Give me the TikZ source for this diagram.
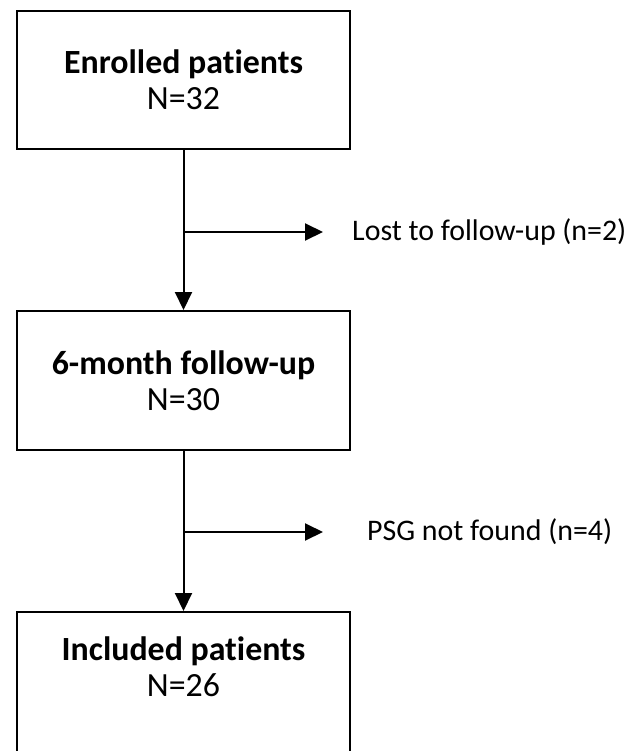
\documentclass[tikz,border=0pt]{standalone}
\usepackage{fontspec}
\setmainfont{Carlito}[Ligatures=NoCommon]
\usetikzlibrary{arrows.meta}
\begin{document}
\begin{tikzpicture}[x=1bp, y=-1bp,
    stage/.style={draw=black, line width=2bp, minimum width=333bp, align=center,
      font=\fontsize{34}{38}\selectfont\bfseries},
    excluded/.style={anchor=west, inner sep=0pt, font=\fontsize{30}{36}\selectfont},
    flow/.style={line width=2bp, -{Triangle[length=18bp, width=17bp]}}]
    \useasboundingbox (0,0) rectangle (633,751);
    \clip (0,0) rectangle (633,751);
    % Draw the stages of the study.
    \node[stage, minimum height=138bp] (enrolled) at (183.5,80) {Enrolled patients\\[-2pt]\mdseries N=32};
    \node[stage, minimum height=139bp] (followup) at (183.5,380.5) {6-month follow-up\\[-2pt]\mdseries N=30};
    \node[stage, minimum height=170bp, text depth=60bp] (included) at (183.5,697) {Included patients\\[-2pt]\mdseries N=26};
    % Draw the exclusions on the right.
    \node[excluded] (lost) at (352,232) {Lost to follow-up (n=2)};
    \node[excluded] (psg) at (367,532) {PSG not found (n=4)};
    \coordinate (split1) at (enrolled.south |- lost.west);
    \coordinate (split2) at (followup.south |- psg.west);
    % Draw the arrows.
    \draw[flow] (enrolled.south) -- (followup.north);
    \draw[flow] (followup.south) -- (included.north);
    \draw[flow, shorten >=29bp] (split1) -- (lost.west);
    \draw[flow, shorten >=44bp] (split2) -- (psg.west);
\end{tikzpicture}
\end{document}
